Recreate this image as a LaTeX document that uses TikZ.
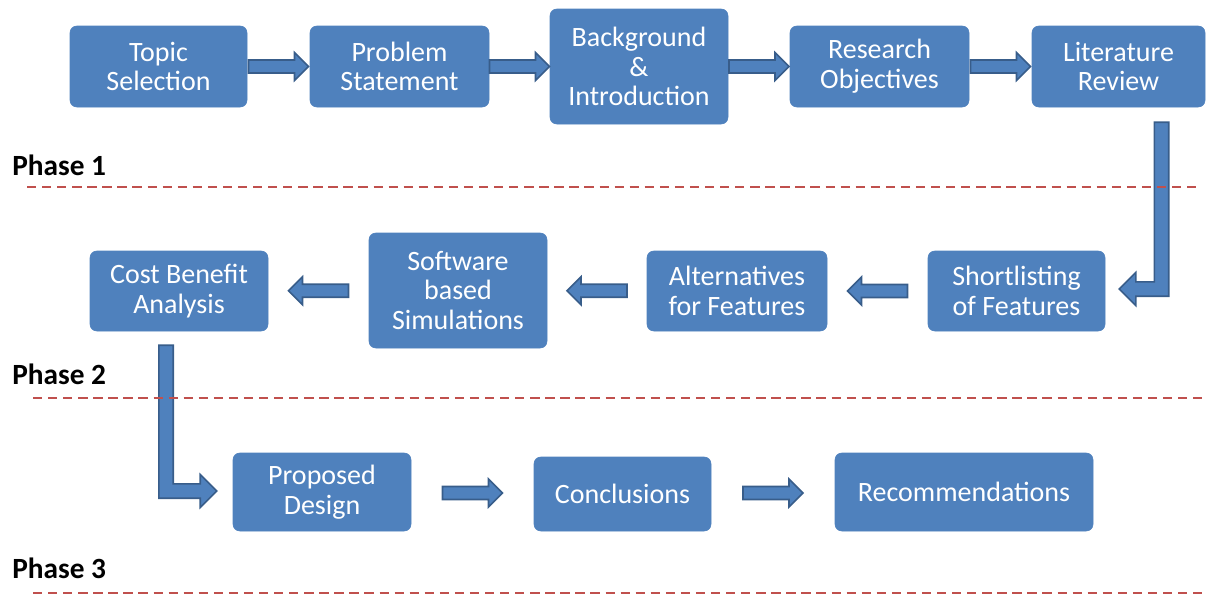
\documentclass[tikz,border=0pt]{standalone}
\usepackage{fontspec}
\setmainfont{Carlito}
\usetikzlibrary{calc}
\definecolor{boxblue}{HTML}{4F81BD}
\definecolor{arrowedge}{HTML}{385D8A}
\definecolor{phasered}{HTML}{C0504D}
\tikzset{
  box/.style={fill=boxblue, draw=boxblue, rounded corners=5pt, text=white, align=center,
    inner sep=0pt, font=\fontsize{21}{22.3}\selectfont},
  blockarrow/.style={fill=boxblue, draw=arrowedge, line width=1.2pt, line join=miter},
  phaseline/.style={draw=phasered, line width=2.2pt, dash pattern=on 7pt off 4.3pt},
  phaselabel/.style={font=\fontsize{22}{24}\selectfont\bfseries, anchor=base west, inner sep=0pt},
}
% straight block arrow pointing right, centred in the gap between two nodes
\newcommand\rightblk[2]{%
  \path[blockarrow] let \p1=($(#1.east)!0.5!(#2.west)$) in
  ({\x1-22.5pt},{\y1+4.9pt}) -- ({\x1+12pt},{\y1+4.9pt}) -- ({\x1+12pt},{\y1+10.5pt})
  -- ({\x1+22.5pt},\y1) -- ({\x1+12pt},{\y1-10.5pt}) -- ({\x1+12pt},{\y1-4.9pt})
  -- ({\x1-22.5pt},{\y1-4.9pt}) -- cycle;}
% straight block arrow pointing left
\newcommand\leftblk[2]{%
  \path[blockarrow] let \p1=($(#1.west)!0.5!(#2.east)$) in
  ({\x1+22.5pt},{\y1+4.9pt}) -- ({\x1-12pt},{\y1+4.9pt}) -- ({\x1-12pt},{\y1+10.5pt})
  -- ({\x1-22.5pt},\y1) -- ({\x1-12pt},{\y1-10.5pt}) -- ({\x1-12pt},{\y1-4.9pt})
  -- ({\x1+22.5pt},{\y1-4.9pt}) -- cycle;}
% bent block arrow: down from #1, then sideways (sign #3) to tip #2
\newcommand\bentblk[3]{%
  \path[blockarrow] let \p1=#1, \p2=#2 in
  ({\x1-(#3)*5.4pt},\y1) -- ({\x1-(#3)*5.4pt},{\y2-5.4pt}) -- ({\x2-(#3)*12.4pt},{\y2-5.4pt})
  -- ({\x2-(#3)*12.4pt},{\y2-12.4pt}) -- (\x2,\y2) -- ({\x2-(#3)*12.4pt},{\y2+12.4pt})
  -- ({\x2-(#3)*12.4pt},{\y2+5.4pt}) -- ({\x1+(#3)*5.4pt},{\y2+5.4pt})
  -- ({\x1+(#3)*5.4pt},\y1) -- cycle;}
\begin{document}
\begin{tikzpicture}[x=0.75pt, y=-0.75pt]
\useasboundingbox (0,0) rectangle (1206,596);
% Row 1
\node[box, minimum width=132.75pt, minimum height=60.75pt] (topic) at (158.5,66.5) {Topic\\Selection};
\node[box, minimum width=134.25pt, minimum height=60.75pt] (problem) at (399.5,66.5) {Problem\\Statement};
\node[box, minimum width=133.5pt, minimum height=86.25pt] (bg) at (639,66.5) {Background\\\&\\Introduction};
\node[box, minimum width=134.25pt, minimum height=60.75pt] (research) at (879.5,66.5) {Research\\Objectives};
\node[box, minimum width=129.75pt, minimum height=60.75pt] (lit) at (1118.5,66.5) {Literature\\Review};
% Row 2
\node[box, minimum width=133.5pt, minimum height=60pt] (cost) at (179,291) {Cost Benefit\\Analysis};
\node[box, minimum width=133.5pt, minimum height=86.25pt] (soft) at (458,290.5) {Software\\based\\Simulations};
\node[box, minimum width=135pt, minimum height=60pt] (alt) at (737,291) {Alternatives\\for Features};
\node[box, minimum width=132.75pt, minimum height=60pt] (short) at (1016.5,291) {Shortlisting\\of Features};
% Row 3
\node[box, minimum width=133.5pt, minimum height=58.5pt] (proposed) at (322,492) {Proposed\\Design};
\node[box, minimum width=132.75pt, minimum height=55.5pt] (concl) at (622.5,494) {Conclusions};
\node[box, minimum width=193.5pt, minimum height=58.5pt] (recs) at (964,492) {Recommendations};
% Arrows
\rightblk{topic}{problem}
\rightblk{problem}{bg}
\rightblk{bg}{research}
\rightblk{research}{lit}
\bentblk{($(lit.south)+(43,15)$)}{($(short.east)+(14,-2)$)}{-1}
\leftblk{short}{alt}
\leftblk{alt}{soft}
\leftblk{soft}{cost}
\bentblk{($(cost.south)+(-13,14)$)}{($(proposed.west)+(-16,-1)$)}{1}
\rightblk{proposed}{concl}
\rightblk{concl}{recs}
% Phase separators
\coordinate (l1a) at (27,187);  \coordinate (l1b) at (1202,187);
\coordinate (l2a) at (33,398);  \coordinate (l2b) at (1202,398);
\coordinate (l3a) at (33,593);  \coordinate (l3b) at (1202,593);
\draw[phaseline] (l1a) -- (l1b);
\draw[phaseline] (l2a) -- (l2b);
\draw[phaseline] (l3a) -- (l3b);
\node[phaselabel] (ph1) at (12,175) {Phase 1};
\node[phaselabel] (ph2) at (12,384) {Phase 2};
\node[phaselabel] (ph3) at (12,578) {Phase 3};
\end{tikzpicture}
\end{document}
